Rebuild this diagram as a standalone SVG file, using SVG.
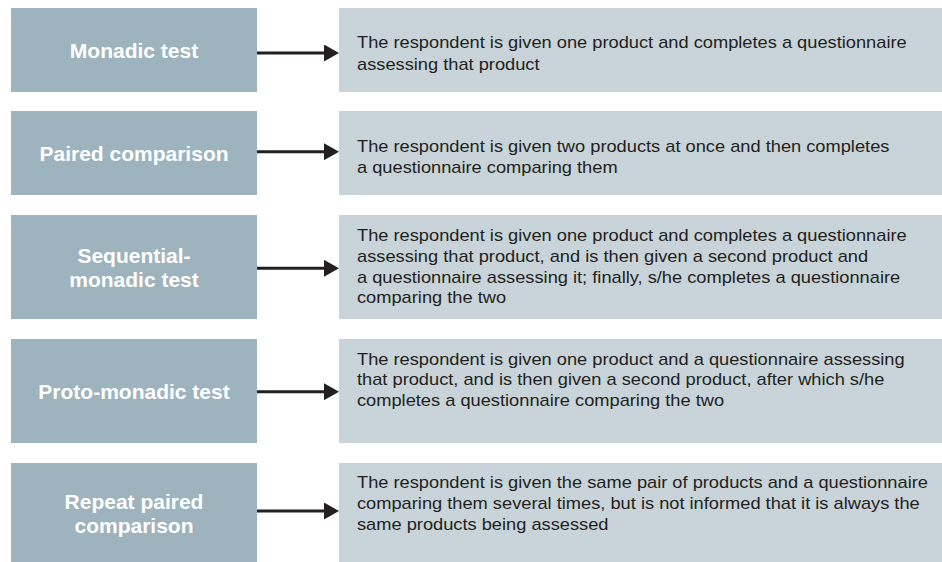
<svg xmlns="http://www.w3.org/2000/svg" width="942" height="562" viewBox="0 0 942 562">
  <style>
    .lbox { fill: #9db3bd; }
    .rbox { fill: #c8d4d9; }
    .ltxt { font-family: "Liberation Sans", Arial, sans-serif; font-weight: bold; font-size: 21px; fill: #ffffff; text-anchor: middle; }
    .rtxt { font-family: "Liberation Sans", Arial, sans-serif; font-size: 17px; fill: #231f20; }
    .conn { stroke: #231f20; stroke-width: 3; fill: none; }
  </style>
  <defs>
    <marker id="arrow" markerUnits="userSpaceOnUse" viewBox="0 0 15 17" refX="6" refY="8.5" markerWidth="15" markerHeight="17" orient="auto">
      <polygon points="0,0 15,8.5 0,17" fill="#231f20"/>
    </marker>
  </defs>
  <rect width="942" height="562" fill="#ffffff"/>

  <g id="node-monadic">
    <rect class="lbox" x="11" y="8" width="246" height="84"/>
    <text class="ltxt" x="134" y="57.5">Monadic test</text>
  </g>
  <g id="desc-monadic">
    <rect class="rbox" x="339" y="8" width="603" height="84"/>
    <text class="rtxt" transform="matrix(1.074 0 0 1 357 0)"><tspan x="0" y="48.3">The respondent is given one product and completes a questionnaire</tspan><tspan x="0" y="70">assessing that product</tspan></text>
  </g>

  <g id="node-paired">
    <rect class="lbox" x="11" y="111" width="246" height="84"/>
    <text class="ltxt" x="134" y="160.5">Paired comparison</text>
  </g>
  <g id="desc-paired">
    <rect class="rbox" x="339" y="111" width="603" height="84"/>
    <text class="rtxt" transform="matrix(1.074 0 0 1 357 0)"><tspan x="0" y="151.7">The respondent is given two products at once and then completes</tspan><tspan x="0" y="173.3">a questionnaire comparing them</tspan></text>
  </g>

  <g id="node-sequential">
    <rect class="lbox" x="11" y="215" width="246" height="104"/>
    <text class="ltxt"><tspan x="134" y="262.5">Sequential-</tspan><tspan x="134" y="287">monadic test</tspan></text>
  </g>
  <g id="desc-sequential">
    <rect class="rbox" x="339" y="215" width="603" height="104"/>
    <text class="rtxt" transform="matrix(1.074 0 0 1 357 0)"><tspan x="0" y="241">The respondent is given one product and completes a questionnaire</tspan><tspan x="0" y="262">assessing that product, and is then given a second product and</tspan><tspan x="0" y="283">a questionnaire assessing it; finally, s/he completes a questionnaire</tspan><tspan x="0" y="303.5">comparing the two</tspan></text>
  </g>

  <g id="node-proto">
    <rect class="lbox" x="11" y="339" width="246" height="104"/>
    <text class="ltxt" x="134" y="398.5">Proto-monadic test</text>
  </g>
  <g id="desc-proto">
    <rect class="rbox" x="339" y="339" width="603" height="104"/>
    <text class="rtxt" transform="matrix(1.074 0 0 1 357 0)"><tspan x="0" y="365">The respondent is given one product and a questionnaire assessing</tspan><tspan x="0" y="385.5">that product, and is then given a second product, after which s/he</tspan><tspan x="0" y="406.5">completes a questionnaire comparing the two</tspan></text>
  </g>

  <g id="node-repeat">
    <rect class="lbox" x="11" y="463" width="246" height="99"/>
    <text class="ltxt"><tspan x="134" y="509">Repeat paired</tspan><tspan x="134" y="533">comparison</tspan></text>
  </g>
  <g id="desc-repeat">
    <rect class="rbox" x="339" y="463" width="603" height="99"/>
    <text class="rtxt" transform="matrix(1.074 0 0 1 357 0)"><tspan x="0" y="488">The respondent is given the same pair of products and a questionnaire</tspan><tspan x="0" y="509">comparing them several times, but is not informed that it is always the</tspan><tspan x="0" y="530">same products being assessed</tspan></text>
  </g>

  <g id="connectors">
    <line class="conn" x1="257" y1="53" x2="330" y2="53" marker-end="url(#arrow)"/>
    <line class="conn" x1="257" y1="151.7" x2="330" y2="151.7" marker-end="url(#arrow)"/>
    <line class="conn" x1="257" y1="268.3" x2="330" y2="268.3" marker-end="url(#arrow)"/>
    <line class="conn" x1="257" y1="391.7" x2="330" y2="391.7" marker-end="url(#arrow)"/>
    <line class="conn" x1="257" y1="511" x2="330" y2="511" marker-end="url(#arrow)"/>
  </g>
</svg>
